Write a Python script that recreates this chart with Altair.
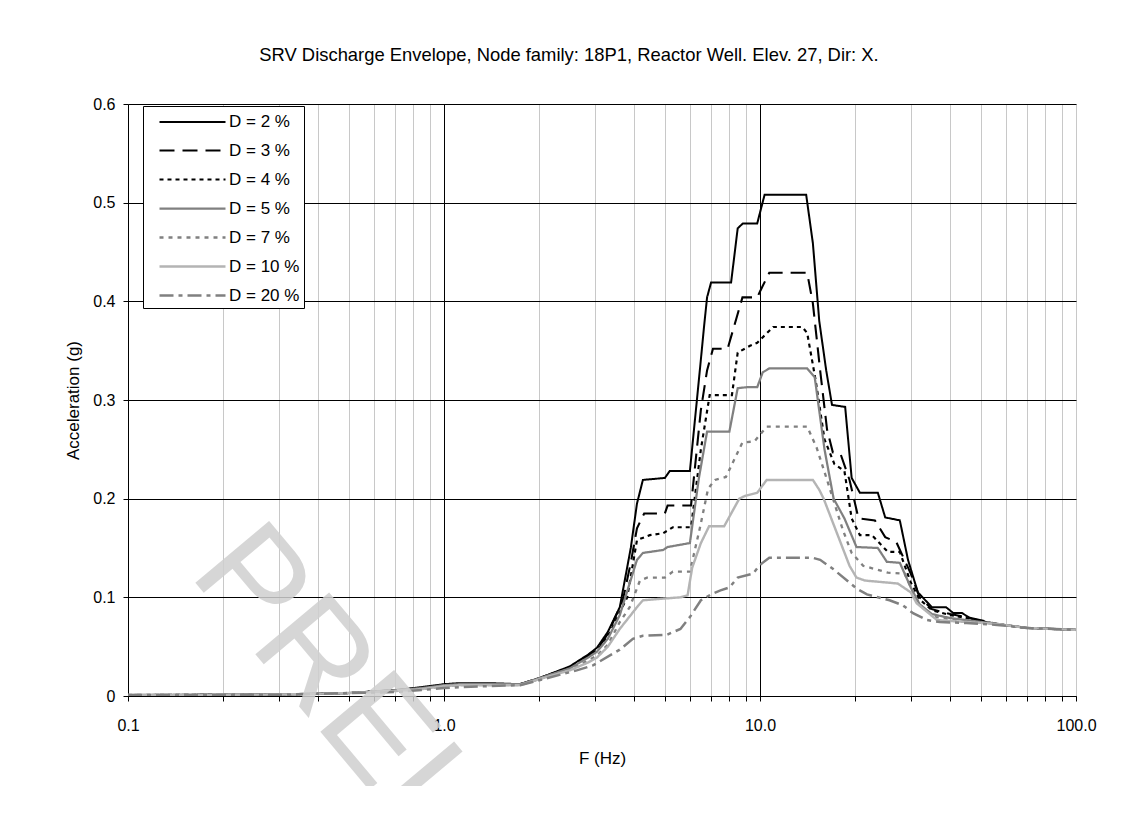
import altair as alt
import pandas as pd

labels = ["D = 2 %", "D = 3 %", "D = 4 %", "D = 5 %", "D = 7 %", "D = 10 %", "D = 20 %"]

f2 = [0.1, 0.2, 0.3, 0.5, 0.7, 0.85, 1.0, 1.12, 1.4, 1.74, 2.0, 2.5, 2.86, 3.05, 3.3, 3.6, 3.9, 4.08, 4.26, 5.0,
      5.18, 6.0, 6.45, 6.65, 6.8, 7.0, 8.1, 8.5, 8.83, 9.8, 10.34, 14.0, 14.7, 15.4, 16.2, 16.9, 18.6, 19.5, 20.7, 23.6,
      24.9, 27.7, 29.4, 31.6, 35.0, 38.8, 40.9, 43.6, 47.3, 56.3, 69.8, 100]
a2 = [0.001, 0.0012, 0.0015, 0.003, 0.006, 0.009, 0.012, 0.013, 0.013, 0.012, 0.018, 0.03, 0.042, 0.049, 0.065, 0.09, 0.15, 0.195, 0.219, 0.221,
      0.228, 0.228, 0.33, 0.374, 0.404, 0.419, 0.419, 0.474, 0.479, 0.479, 0.508, 0.508, 0.459, 0.38, 0.33, 0.295, 0.293, 0.221, 0.206, 0.206,
      0.181, 0.178, 0.138, 0.105, 0.09, 0.09, 0.084, 0.084, 0.077, 0.073, 0.069, 0.067]

f3 = [0.1, 0.2, 0.3, 0.5, 0.7, 0.85, 1.0, 1.12, 1.4, 1.74, 2.0, 2.5, 2.86, 3.05, 3.3, 3.68, 3.9, 4.08, 4.3, 5.0,
      5.1, 6.05, 6.5, 6.8, 7.1, 7.9, 8.8, 9.8, 10.0, 10.7, 14.1, 14.7, 15.5, 16.3, 17.0, 18.0, 19.2, 20.5, 23.1, 24.9,
      27.0, 30.0, 32.0, 35.0, 40.0, 45.0, 56.3, 69.8, 100]
a3 = [0.001, 0.0012, 0.0015, 0.003, 0.006, 0.008, 0.011, 0.012, 0.012, 0.012, 0.018, 0.029, 0.041, 0.047, 0.063, 0.097, 0.135, 0.17, 0.185, 0.185,
      0.193, 0.193, 0.29, 0.33, 0.352, 0.352, 0.404, 0.404, 0.41, 0.429, 0.429, 0.398, 0.33, 0.27, 0.247, 0.245, 0.219, 0.18, 0.178, 0.161,
      0.156, 0.124, 0.1, 0.088, 0.083, 0.08, 0.073, 0.069, 0.067]

f4 = [0.1, 0.2, 0.3, 0.5, 0.7, 0.85, 1.0, 1.12, 1.4, 1.74, 2.0, 2.5, 2.86, 3.05, 3.3, 3.8, 4.08, 4.48, 4.94, 5.3,
      6.05, 6.5, 6.93, 8.15, 8.5, 9.3, 9.8, 11.0, 13.6, 14.1, 15.0, 16.0, 17.2, 18.5, 19.5, 20.7, 22.6, 25.4, 27.7, 30.0,
      32.0, 35.0, 40.0, 45.0, 56.3, 69.8, 100]
a4 = [0.001, 0.0012, 0.0015, 0.003, 0.006, 0.008, 0.011, 0.012, 0.012, 0.012, 0.018, 0.029, 0.04, 0.046, 0.06, 0.1, 0.158, 0.163, 0.165, 0.171,
      0.171, 0.25, 0.305, 0.305, 0.348, 0.355, 0.358, 0.374, 0.374, 0.368, 0.32, 0.26, 0.235, 0.228, 0.18, 0.163, 0.163, 0.146, 0.146, 0.115,
      0.098, 0.087, 0.082, 0.079, 0.073, 0.069, 0.067]

f5 = [0.1, 0.2, 0.3, 0.5, 0.7, 0.85, 1.0, 1.12, 1.4, 1.74, 2.0, 2.5, 2.86, 3.05, 3.3, 3.6, 4.08, 4.26, 4.94, 5.1,
      6.0, 6.4, 6.8, 8.0, 8.5, 9.1, 9.8, 10.2, 10.7, 14.1, 14.9, 16.0, 17.1, 18.5, 20.2, 23.6, 25.2, 27.7, 30.0, 32.0,
      35.0, 40.0, 45.0, 56.3, 69.8, 100]
a5 = [0.001, 0.0012, 0.0015, 0.003, 0.006, 0.008, 0.011, 0.012, 0.012, 0.012, 0.018, 0.028, 0.039, 0.045, 0.058, 0.082, 0.138, 0.145, 0.148, 0.151,
      0.155, 0.22, 0.268, 0.268, 0.312, 0.313, 0.313, 0.328, 0.332, 0.332, 0.323, 0.25, 0.2, 0.18, 0.151, 0.15, 0.136, 0.135, 0.11, 0.093,
      0.083, 0.079, 0.077, 0.073, 0.069, 0.067]

f7 = [0.1, 0.2, 0.3, 0.5, 0.7, 0.85, 1.0, 1.12, 1.4, 1.74, 2.0, 2.5, 2.86, 3.05, 3.3, 3.6, 3.87, 4.17, 4.39, 5.0,
      5.3, 6.0, 6.45, 6.85, 7.2, 7.8, 8.8, 9.6, 10.5, 14.1, 15.1, 16.3, 18.3, 19.5, 21.2, 25.4, 28.7, 31.0, 33.0, 36.0,
      40.0, 45.0, 56.3, 69.8, 100]
a7 = [0.001, 0.0012, 0.0015, 0.003, 0.005, 0.007, 0.01, 0.011, 0.011, 0.011, 0.017, 0.027, 0.036, 0.041, 0.052, 0.075, 0.09, 0.117, 0.12, 0.12,
      0.126, 0.126, 0.17, 0.21, 0.219, 0.222, 0.257, 0.258, 0.273, 0.273, 0.252, 0.219, 0.168, 0.145, 0.132, 0.125, 0.124, 0.1, 0.088, 0.08,
      0.078, 0.076, 0.073, 0.069, 0.067]

f10 = [0.1, 0.2, 0.3, 0.5, 0.7, 0.85, 1.0, 1.12, 1.4, 1.74, 2.0, 2.5, 2.86, 3.05, 3.3, 3.6, 4.08, 4.26, 5.07, 5.6,
       5.9, 6.1, 6.5, 6.9, 7.7, 8.6, 9.0, 9.8, 10.5, 14.7, 15.4, 15.9, 19.2, 20.2, 21.5, 27.3, 30.0, 31.3, 36.3, 40.0,
       45.0, 56.3, 69.8, 100]
a10 = [0.001, 0.0012, 0.0015, 0.003, 0.005, 0.007, 0.01, 0.011, 0.011, 0.011, 0.017, 0.026, 0.034, 0.039, 0.05, 0.068, 0.09, 0.097, 0.099, 0.1,
       0.102, 0.13, 0.155, 0.172, 0.172, 0.2, 0.203, 0.206, 0.219, 0.219, 0.209, 0.2, 0.132, 0.12, 0.117, 0.114, 0.105, 0.094, 0.077, 0.076,
       0.075, 0.073, 0.069, 0.067]

f20 = [0.1, 0.2, 0.3, 0.5, 0.7, 0.85, 1.0, 1.12, 1.4, 1.74, 2.0, 2.63, 2.96, 3.6, 3.96, 4.26, 5.07, 5.6, 6.0, 6.5,
       7.0, 7.5, 8.0, 8.5, 9.5, 10.0, 10.7, 14.7, 15.5, 17.0, 20.2, 21.8, 25.7, 28.3, 30.5, 33.7, 37.1, 45.0, 56.3, 69.8,
       100]
a20 = [0.001, 0.0011, 0.0013, 0.003, 0.004, 0.006, 0.008, 0.009, 0.01, 0.011, 0.016, 0.026, 0.031, 0.047, 0.058, 0.061, 0.062, 0.068, 0.08, 0.097,
       0.103, 0.107, 0.11, 0.12, 0.124, 0.133, 0.14, 0.14, 0.138, 0.129, 0.109, 0.103, 0.097, 0.092, 0.084, 0.077, 0.075, 0.074, 0.072, 0.069,
       0.067]

freqs = [f2, f3, f4, f5, f7, f10, f20]
accs = [a2, a3, a4, a5, a7, a10, a20]

x_ticks = [round(m * 10 ** k, 6) for k in (-1, 0, 1) for m in range(1, 10)] + [100]
y_ticks = [0, 0.1, 0.2, 0.3, 0.4, 0.5, 0.6]

rows = []
for i, (lab, fs, aa) in enumerate(zip(labels, freqs, accs)):
    for f, a in zip(fs, aa):
        rows.append({"series": lab, "f": f, "a": a, "k": i})
df = pd.DataFrame(rows)

colors = ["#000000", "#000000", "#000000", "#808080", "#808080", "#b4b4b4", "#808080"]
dashes = [[1, 0], [15, 8], [4, 4], [1, 0], [4, 5], [1, 0], [14, 5, 4, 5]]
widths = [2, 2.5, 2.5, 2, 2, 3, 2]

FONT = "Liberation Sans"

leg = alt.Legend(
    title=None, orient="none", legendX=15, legendY=2,
    symbolType="M0,0L6,0", symbolSize=484, labelFontSize=17, labelFont=FONT,
    labelColor="black", fillColor="white", strokeColor="black", padding=4,
    rowPadding=8, labelOffset=57, labelLimit=0,
)

lines = alt.Chart(df).mark_line(clip=True).encode(
    x=alt.X("f:Q", title="F (Hz)",
            scale=alt.Scale(type="log", domain=[0.1, 100], nice=False),
            axis=alt.Axis(values=x_ticks, labelExpr="(datum.value == 0.1 || datum.value == 1 || datum.value == 10 || datum.value == 100) ? format(datum.value, '.1f') : ''",
                          gridColor={"condition": {"test": "datum.value == 1 || datum.value == 10", "value": "#000000"}, "value": "#c8c8c8"},
                          tickSize=5, tickColor="black", domainColor="black", labelPadding=16,
                          labelFontSize=16, titleFontSize=17, titlePadding=17, labelFont=FONT, titleFont=FONT,
                          titleFontWeight="normal", labelFlush=False, labelColor="black", titleColor="black")),
    y=alt.Y("a:Q", title="Acceleration (g)",
            scale=alt.Scale(domain=[0, 0.6], nice=False),
            axis=alt.Axis(values=y_ticks, labelExpr="datum.value == 0 ? '0' : format(datum.value, '.1f')",
                          gridColor="#000000", tickSize=5, tickColor="black", domainColor="black",
                          labelPadding=8, labelFontSize=16, titleFontSize=17, titlePadding=10,
                          labelFont=FONT, titleFont=FONT, titleFontWeight="normal",
                          labelColor="black", titleColor="black")),
    color=alt.Color("series:N", scale=alt.Scale(domain=labels, range=colors), legend=leg),
    strokeDash=alt.StrokeDash("series:N", scale=alt.Scale(domain=labels, range=dashes), legend=leg),
    strokeWidth=alt.StrokeWidth("series:N", scale=alt.Scale(domain=labels, range=widths), legend=leg),
    order=alt.Order("f:Q"),
)

watermark = alt.Chart(pd.DataFrame({"t": ["PRELIMINARY"]})).mark_text(
    align="left", baseline="alphabetic", angle=50, fontSize=140, font=FONT,
    color="#d0d0d0", opacity=0.85,
).encode(text="t:N", x=alt.value(60), y=alt.value(470))

chart = alt.layer(lines, watermark).properties(
    width=948, height=592,
    title=alt.TitleParams("SRV Discharge Envelope, Node family: 18P1, Reactor Well. Elev. 27, Dir: X.",
                          fontSize=18.4, font=FONT, fontWeight="normal", color="black",
                          offset=32, dx=-33, anchor="middle"),
    padding={"left": 120, "top": 96, "right": 40, "bottom": 90},
    autosize=alt.AutoSizeParams(type="none"),
).configure_view(stroke="#808080", strokeWidth=1).configure(background="white")

chart.save("out.html", embed_options={"renderer": "svg", "actions": False})
